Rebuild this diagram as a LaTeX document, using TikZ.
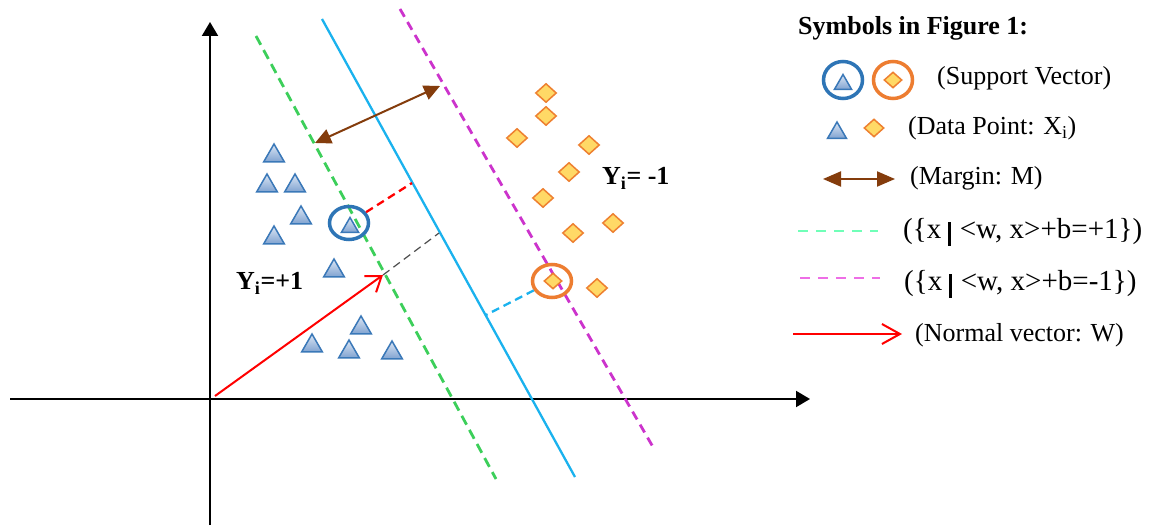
\documentclass[tikz,border=0pt]{standalone}
\usepackage{fontspec}
\setmainfont{Liberation Serif}
\usetikzlibrary{arrows.meta,shapes.geometric}
\definecolor{triedge}{HTML}{3A78B8}
\definecolor{trilight}{HTML}{DCE6F4}
\definecolor{tridark}{HTML}{7FA2D0}
\definecolor{diaedge}{HTML}{EE8030}
\definecolor{diafill}{HTML}{FFD966}
\definecolor{ringblue}{HTML}{2E75B6}
\definecolor{ringorange}{HTML}{ED7D31}
\definecolor{hypblue}{HTML}{1AB2EE}
\definecolor{margreen}{HTML}{3CCF5A}
\definecolor{marmag}{HTML}{CC33CC}
\definecolor{leggreen}{HTML}{70FFB8}
\definecolor{legmag}{HTML}{EE6EE6}
\definecolor{brownarr}{HTML}{843C0C}
\begin{document}
\begin{tikzpicture}[x=1pt,y=-1pt,
  tri/.style={regular polygon, regular polygon sides=3, minimum size=24pt, inner sep=0pt,
    draw=triedge, line width=1.5pt, top color=trilight, bottom color=tridark, yshift=-3pt},
  smalltri/.style={tri, minimum size=20pt, yshift=0.5pt},
  dia/.style={diamond, minimum width=21pt, minimum height=19pt, inner sep=0pt,
    draw=diaedge, line width=1.5pt, fill=diafill},
  smalldia/.style={dia, minimum width=18pt, minimum height=16pt},
  ring/.style={ellipse, draw, line width=3.5pt, minimum width=39pt, minimum height=33pt, inner sep=0pt},
  legring/.style={ring, minimum height=37pt},
  axis/.style={line width=2pt, -{Triangle[length=14pt,width=16pt]}},
  lbl/.style={anchor=base west, inner sep=0pt, font=\fontsize{26}{31}\selectfont},
  setlbl/.style={anchor=base west, inner sep=0pt, font=\fontsize{29}{34}\selectfont},
  ylbl/.style={anchor=base west, inner sep=0pt, font=\fontsize{26}{31}\selectfont\bfseries},
  greendash/.style={margreen, line width=2.8pt, dash pattern=on 10pt off 6pt},
  magdash/.style={marmag, line width=2.8pt, dash pattern=on 9pt off 6pt},
  hypline/.style={hypblue, line width=2.3pt},
  marginarrow/.style={brownarr, line width=2pt, {Triangle[length=16pt,width=15pt]}-{Triangle[length=16pt,width=15pt]}},
  normalarrow/.style={red, line width=2pt, -{Straight Barb[length=14pt,width=20pt,line width=2pt]}},
  connred/.style={red, line width=2.3pt, dash pattern=on 8pt off 5pt},
  connblack/.style={black!70, line width=1.2pt, dash pattern=on 8pt off 5pt},
  conncyan/.style={hypblue, line width=2.3pt, dash pattern=on 8pt off 5pt}
]
\useasboundingbox (0,0) rectangle (1152,529);
\fill[white] (0,0) rectangle (1152,529);

% axes
\coordinate (xs) at (10,399);
\coordinate (xe) at (810,399);
\coordinate (ys) at (210,525);
\coordinate (ye) at (210,22);
\draw[axis] (xs) -- (xe);
\draw[axis] (ys) -- (ye);

% hyperplanes
\coordinate (g1) at (256,36);  \coordinate (g2) at (496,479);
\coordinate (b1) at (322,19);  \coordinate (b2) at (575,477);
\coordinate (m1) at (400,9);   \coordinate (m2) at (653,447);
\draw[greendash] (g1) -- (g2);
\draw[hypline] (b1) -- (b2);
\draw[magdash] (m1) -- (m2);

% margin arrow
\coordinate (ma1) at (315,143);
\coordinate (ma2) at (440,86);
\draw[marginarrow] (ma1) -- (ma2);

% triangles (class +1)
\node[tri] (t1) at (274,153) {};
\node[tri] (t2) at (267,183) {};
\node[tri] (t3) at (295,183) {};
\node[tri] (t4) at (301,215) {};
\node[tri] (t5) at (274,235) {};
\node[tri] (t6) at (334,268) {};
\node[tri] (t7) at (361,325) {};
\node[tri] (t8) at (312,343) {};
\node[tri] (t9) at (349,349) {};
\node[tri] (t10) at (392,350) {};
\node[smalltri] (ts) at (350,225) {};
\node[ring, draw=ringblue] (rs1) at (349,223) {};

% diamonds (class -1)
\node[dia] (d1) at (546,93) {};
\node[dia] (d2) at (546,116) {};
\node[dia] (d3) at (517,138) {};
\node[dia] (d4) at (589,145) {};
\node[dia] (d5) at (569,172) {};
\node[dia] (d6) at (543,198) {};
\node[dia] (d7) at (613,223) {};
\node[dia] (d8) at (573,233) {};
\node[dia] (d9) at (597,288) {};
\node[smalldia] (ds) at (553,281) {};
\node[ring, draw=ringorange] (rs2) at (552,281) {};

% normal vector and distances
\coordinate (o) at (215,396);
\coordinate (wt) at (383,275);
\coordinate (p1) at (412,183);
\coordinate (p2) at (439,233);
\coordinate (p3) at (486,315);
\draw[connred] (rs1) -- (p1);
\draw[connblack] (wt) -- (p2);
\draw[conncyan] (rs2) -- (p3);
\draw[normalarrow] (o) -- (wt);

% class labels
\node[ylbl] (lp) at (236,290) {Y\textsubscript{i}=+1};
\node[ylbl] (ln) at (602,185) {Y\textsubscript{i}= -1};

% legend
\node[ylbl] (lt) at (798,35) {Symbols in Figure 1:};

\node[smalltri] (lgt1) at (843,82) {};
\node[legring, draw=ringblue] (lgr1) at (843,80) {};
\node[smalldia] (lgd1) at (893,80) {};
\node[legring, draw=ringorange] (lgr2) at (893,80) {};
\node[lbl] (l1) at (937,85) {(Support Vector)};

\node[tri, minimum size=22pt] (lgt2) at (837,130) {};
\node[dia, minimum width=20pt, minimum height=18pt] (lgd2) at (874,128) {};
\node[lbl] (l2) at (908,135) {(Data Point: X\textsubscript{i})};

\coordinate (lm1) at (823,179);
\coordinate (lm2) at (895,179);
\draw[marginarrow, {Triangle[length=18pt,width=15pt]}-{Triangle[length=18pt,width=15pt]}] (lm1) -- (lm2);
\node[lbl] (l3) at (910,185) {(Margin: M)};

\coordinate (lg1) at (798,231);
\coordinate (lg2) at (878,231);
\draw[leggreen, line width=2.5pt, dash pattern=on 10pt off 8pt] (lg1) -- (lg2);
\node[setlbl] (l4) at (903,239) {(\{x\kern7pt\rule[-7pt]{2.5pt}{24pt}\kern9pt<w, x>+b=+1\})};

\coordinate (lh1) at (800,278);
\coordinate (lh2) at (880,278);
\draw[legmag, line width=2.5pt, dash pattern=on 10pt off 8pt] (lh1) -- (lh2);
\node[setlbl] (l5) at (904,291) {(\{x\kern7pt\rule[-7pt]{2.5pt}{24pt}\kern9pt<w, x>+b=-1\})};

\coordinate (ln1) at (793,334);
\coordinate (ln2) at (902,334);
\draw[normalarrow, -{Straight Barb[length=18pt,width=20pt,line width=2pt]}] (ln1) -- (ln2);
\node[lbl] (l6) at (915,342) {(Normal vector: W)};
\end{tikzpicture}
\end{document}
